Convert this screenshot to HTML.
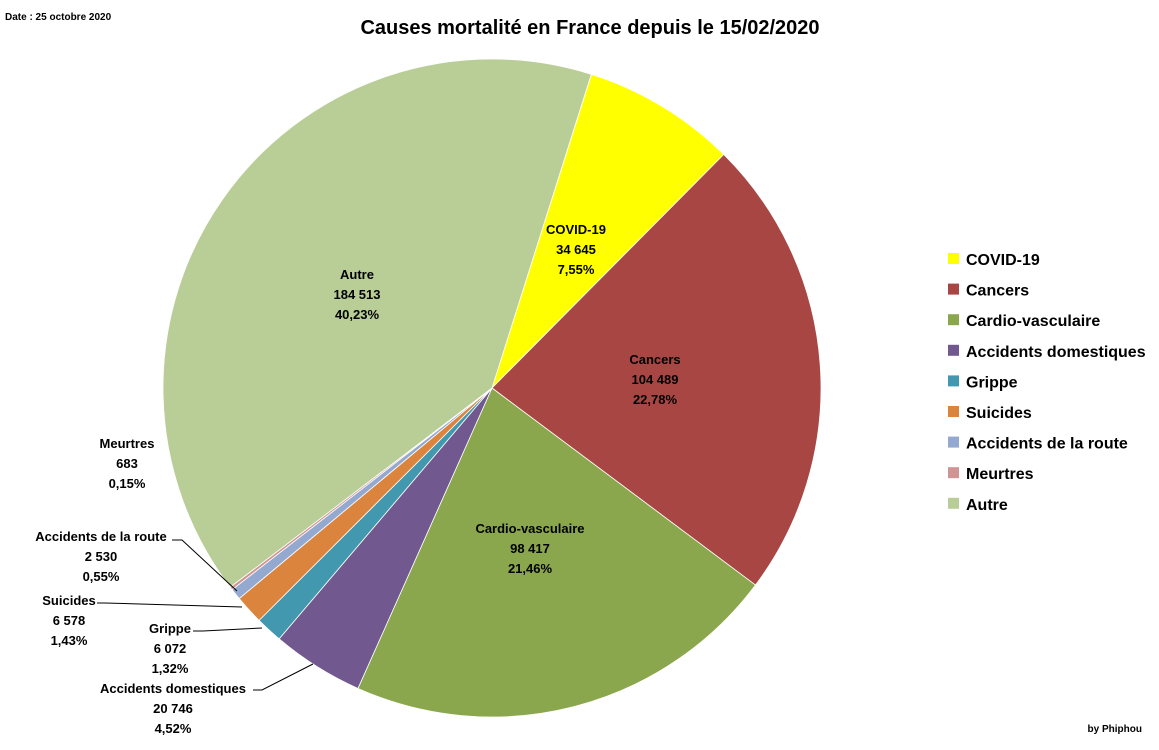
<!DOCTYPE html>
<html><head><meta charset="utf-8"><style>
body{margin:0;background:#fff;width:1159px;height:745px;overflow:hidden;font-family:"Liberation Sans",sans-serif}
svg text{font-family:"Liberation Sans",sans-serif;font-weight:bold}
</style></head><body>
<svg id="s" width="1159" height="745" xmlns="http://www.w3.org/2000/svg">
<text x="5" y="20" font-size="10">Date : 25 octobre 2020</text>
<text x="590" y="34" font-size="20" text-anchor="middle">Causes mortalité en France depuis le 15/02/2020</text>
<text x="1142" y="732" font-size="10" text-anchor="end">by Phiphou</text>
<g id="pie"></g>
<g stroke="#000" stroke-width="1" fill="none">
<polyline points="172,540 182,540 237,591"/>
<polyline points="97,603 105,603 242,607"/>
<polyline points="193,631 203,631 262,628"/>
<polyline points="253,690 262,690 313,664"/>
</g>
<g font-size="13" text-anchor="middle">
<text x="576" y="234">COVID-19</text><text x="576" y="254">34 645</text><text x="576" y="274">7,55%</text>
<text x="655" y="364">Cancers</text><text x="655" y="384">104 489</text><text x="655" y="404">22,78%</text>
<text x="530" y="533">Cardio-vasculaire</text><text x="530" y="553">98 417</text><text x="530" y="573">21,46%</text>
<text x="357" y="279">Autre</text><text x="357" y="299">184 513</text><text x="357" y="319">40,23%</text>
<text x="127" y="448">Meurtres</text><text x="127" y="468">683</text><text x="127" y="488">0,15%</text>
<text x="101" y="541">Accidents de la route</text><text x="101" y="561">2 530</text><text x="101" y="581">0,55%</text>
<text x="69" y="605">Suicides</text><text x="69" y="625">6 578</text><text x="69" y="645">1,43%</text>
<text x="170" y="633">Gripppe</text><text x="170" y="653">6 072</text><text x="170" y="673">1,32%</text>
<text x="173" y="693">Accidents domestiques</text><text x="173" y="713">20 746</text><text x="173" y="733">4,52%</text>
</g>
<g id="leg" font-size="16"></g>
</svg>
<script>
var d=[["COVID-19",7.55,"#FFFF00"],["Cancers",22.78,"#A84644"],["Cardio-vasculaire",21.46,"#8BA74D"],["Accidents domestiques",4.52,"#71588F"],["Grippe",1.32,"#4298AF"],["Suicides",1.43,"#DB843D"],["Accidents de la route",0.55,"#93A9CF"],["Meurtres",0.15,"#D09493"],["Autre",40.23,"#B9CD96"]];
var cx=492,cy=388,r=329,a=17.6,ns="http://www.w3.org/2000/svg",pie=document.getElementById("pie"),leg=document.getElementById("leg");
function pt(g){var t=g*Math.PI/180;return [cx+r*Math.sin(t),cy-r*Math.cos(t)];}
d.forEach(function(e,i){var sw=e[1]*3.6,p0=pt(a),p1=pt(a+sw);
var p=document.createElementNS(ns,"path");
p.setAttribute("d","M"+cx+","+cy+"L"+p0[0]+","+p0[1]+"A"+r+","+r+" 0 "+(sw>180?1:0)+",1 "+p1[0]+","+p1[1]+"Z");
p.setAttribute("fill",e[2]);p.setAttribute("stroke","#fff");p.setAttribute("stroke-width","0.8");pie.appendChild(p);a+=sw;
var y=259+i*30.6,rc=document.createElementNS(ns,"rect");rc.setAttribute("x",948);rc.setAttribute("y",y-6);rc.setAttribute("width",11);rc.setAttribute("height",11);rc.setAttribute("fill",e[2]);leg.appendChild(rc);
var t=document.createElementNS(ns,"text");t.setAttribute("x",966);t.setAttribute("y",y+6);t.textContent=e[0];leg.appendChild(t);});
document.querySelectorAll("text").forEach(function(t){if(t.textContent=="Gripppe")t.textContent="Grippe";});
</script>
</body></html>
